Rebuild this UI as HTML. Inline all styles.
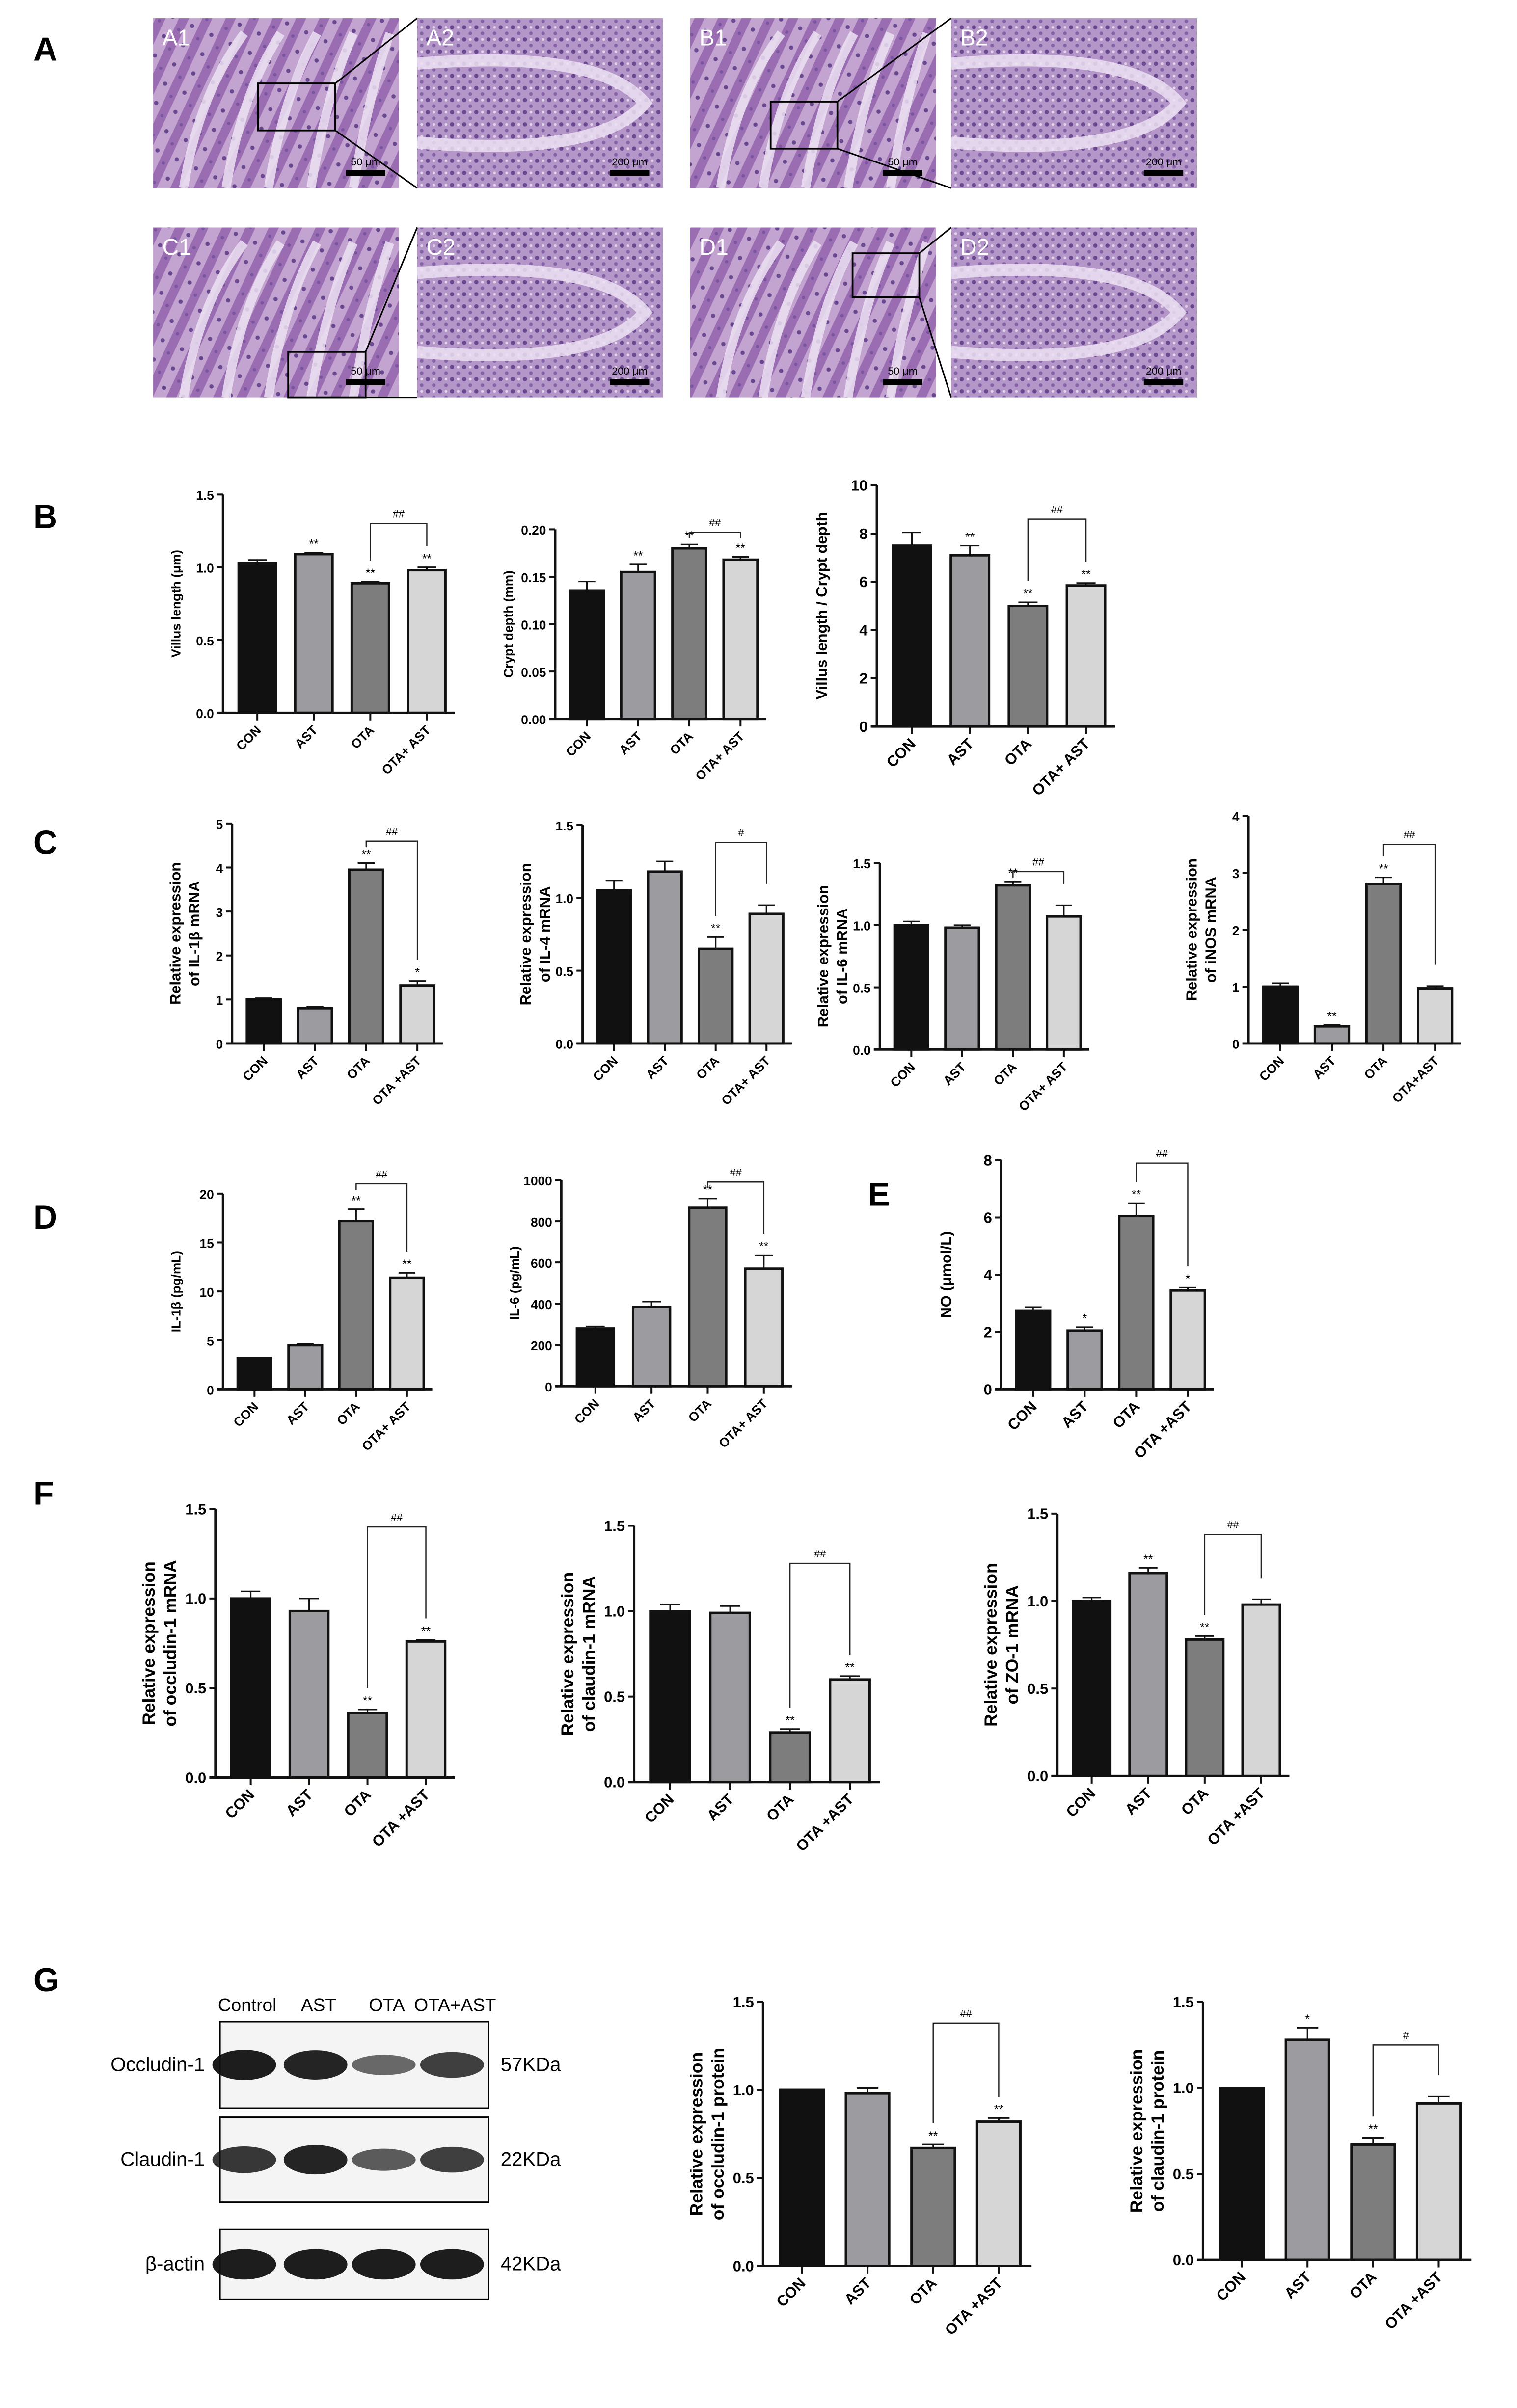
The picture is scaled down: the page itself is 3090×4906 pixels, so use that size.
<!DOCTYPE html>
<html><head><meta charset="utf-8"><style>
html,body{margin:0;padding:0;background:#fff}
svg{display:block}
text{font-family:"Liberation Sans",sans-serif}
</style></head><body>
<svg id="fig" width="3090" height="4906" viewBox="0 0 1000 1587.7" xmlns="http://www.w3.org/2000/svg">
<defs>
<pattern id="tissue" width="14" height="14" patternUnits="userSpaceOnUse" patternTransform="rotate(25)">
<rect width="14" height="14" fill="#c3a3d0"/>
<rect width="6" height="14" fill="#9a6cb2"/>
<circle cx="10" cy="4" r="1.4" fill="#6a4890"/>
<circle cx="3" cy="10" r="1.1" fill="#7a55a0"/>
</pattern>
<pattern id="tissue2" width="8" height="8" patternUnits="userSpaceOnUse">
<rect width="8" height="8" fill="#b596c8"/>
<circle cx="2" cy="2" r="1.4" fill="#6a4890"/>
<circle cx="6" cy="6" r="1.2" fill="#8462a6"/>
<circle cx="6" cy="2" r="0.9" fill="#e2d4ea"/>
</pattern>
</defs>
<g id="panelA"></g>
<g id="charts"></g>
<g id="blot"></g>
</svg>
<script>
const NS="http://www.w3.org/2000/svg";
const categories=["CON","AST","OTA","OTA+ AST"];
const colors=["#111","#9b9ba0","#7d7d7d","#d6d6d6"];
// data arrays
const b1Values=[1.03,1.09,0.89,0.98], b1Err=[0.02,0.01,0.01,0.02], b1Ticks=["0.0","0.5","1.0","1.5"];
const b2Values=[0.135,0.155,0.180,0.168], b2Err=[0.01,0.008,0.004,0.003], b2Ticks=["0.00","0.05","0.10","0.15","0.20"];
const b3Values=[7.5,7.1,5.0,5.85], b3Err=[0.55,0.4,0.15,0.1], b3Ticks=["0","2","4","6","8","10"];
const c1Values=[1.0,0.8,3.95,1.32], c1Err=[0.03,0.03,0.15,0.1], c1Ticks=["0","1","2","3","4","5"];
const c2Values=[1.05,1.18,0.65,0.89], c2Err=[0.07,0.07,0.08,0.06], c2Ticks=["0.0","0.5","1.0","1.5"];
const c3Values=[1.0,0.98,1.32,1.07], c3Err=[0.03,0.02,0.03,0.09], c3Ticks=["0.0","0.5","1.0","1.5"];
const c4Values=[1.0,0.3,2.8,0.97], c4Err=[0.06,0.03,0.12,0.04], c4Ticks=["0","1","2","3","4"];
const d1Values=[3.2,4.5,17.2,11.4], d1Err=[0,0.15,1.2,0.5], d1Ticks=["0","5","10","15","20"];
const d2Values=[280,385,865,570], d2Err=[10,25,45,65], d2Ticks=["0","200","400","600","800","1000"];
const eValues=[2.75,2.05,6.05,3.45], eErr=[0.12,0.12,0.45,0.1], eTicks=["0","2","4","6","8"];
const f1Values=[1.0,0.93,0.36,0.76], f1Err=[0.04,0.07,0.02,0.01], f1Ticks=["0.0","0.5","1.0","1.5"];
const f2Values=[1.0,0.99,0.29,0.60], f2Err=[0.04,0.04,0.02,0.02], f2Ticks=["0.0","0.5","1.0","1.5"];
const f3Values=[1.0,1.16,0.78,0.98], f3Err=[0.02,0.03,0.02,0.03], f3Ticks=["0.0","0.5","1.0","1.5"];
const g1Values=[1.0,0.98,0.67,0.82], g1Err=[0,0.03,0.02,0.02], g1Ticks=["0.0","0.5","1.0","1.5"];
const g2Values=[1.0,1.28,0.67,0.91], g2Err=[0,0.07,0.04,0.04], g2Ticks=["0.0","0.5","1.0","1.5"];

function el(tag,attrs,parent,txt){const e=document.createElementNS(NS,tag);for(const k in attrs)e.setAttribute(k,attrs[k]);if(txt!==undefined)e.textContent=txt;(parent||document.getElementById('charts')).appendChild(e);return e;}

function chart(id,ax,yTop,yBot,xEnd,ymax,vals,errs,ticks,stars,br,ylabel,labels,serif){
  const g=el('g',{});
  
  
  const y=v=>yBot-(v/ymax)*(yBot-yTop);
  const slot=(xEnd-ax-4)/4;
  const bw=slot*0.66;
  const fs=(yBot-yTop)>150?10:8.5;
  vals.forEach((v,i)=>{
    const cx=ax+4+slot*(i+0.5);
    const top=y(v);
    const b=el('rect',{x:cx-bw/2,y:top,width:bw,height:yBot-top,fill:colors[i],stroke:'#111','stroke-width':1.6},g);
    
    
    if(errs[i]>0){const ey=y(v+errs[i]);el('line',{x1:cx,y1:top,x2:cx,y2:ey,stroke:'#111','stroke-width':1},g);el('line',{x1:cx-bw*0.25,y1:ey,x2:cx+bw*0.25,y2:ey,stroke:'#111','stroke-width':1},g);}
    if(stars[i]){const st=el('text',{x:cx,y:y(v+errs[i])-3,'font-size':8,'text-anchor':'middle'},g,stars[i]);}
    el('line',{x1:cx,y1:yBot,x2:cx,y2:yBot+5,stroke:'#111','stroke-width':1.3},g);
    const lb=el('text',{x:cx+3,y:yBot+12,'font-size':fs,'font-weight':'bold','text-anchor':'end',transform:`rotate(-45 ${cx+3} ${yBot+12})`},g,labels[i]);
    
    
  });
  el('line',{x1:ax,y1:yTop,x2:ax,y2:yBot,stroke:'#111','stroke-width':1.6},g);
  el('line',{x1:ax-4,y1:yBot,x2:xEnd,y2:yBot,stroke:'#111','stroke-width':1.6},g);
  ticks.forEach((t,i)=>{const ty=yBot-(i/(ticks.length-1))*(yBot-yTop);el('line',{x1:ax-4,y1:ty,x2:ax,y2:ty,stroke:'#111','stroke-width':1.3},g);const tt=el('text',{x:ax-6,y:ty+3.5,'font-size':fs,'font-weight':'bold','text-anchor':'end'},g,t);});
  if(br){const [i,j,lab,h]=br;const x1=ax+4+slot*(i+0.5),x2=ax+4+slot*(j+0.5);const by=y(h);
    const l1=Math.max(by+4,y(vals[i]+errs[i])-14), l2=Math.max(by+4,y(vals[j]+errs[j])-14);
    el('path',{d:`M${x1} ${l1} V${by} H${x2} V${l2}`,fill:'none',stroke:'#222','stroke-width':0.8},g);
    el('text',{x:(x1+x2)/2,y:by-4,'font-size':7,'text-anchor':'middle'},g,lab);}
  const lines=ylabel.split('\n');const lx=ax-(fs>9?33:28);const ly=(yTop+yBot)/2;
  const yl=el('text',{x:lx,y:ly,'font-size':fs+(lines.length>1?1.5:0),'font-weight':'bold','text-anchor':'middle',transform:`rotate(-90 ${lx} ${ly})`,'font-family':serif?'Liberation Serif,serif':'Liberation Sans,sans-serif'},g);
  
  
  lines.forEach((l,k)=>{el('tspan',{x:lx,dy:k==0?(lines.length>1?-(fs*0.1):0):fs+4},yl,l);});
  if(lines.length>1){yl.setAttribute('transform',`rotate(-90 ${lx} ${ly}) translate(0 ${-(fs+2)/2})`);}
}
const L1=["CON","AST","OTA","OTA+ AST"], L2=["CON","AST","OTA","OTA +AST"], L3=["CON","AST","OTA","OTA+AST"];
chart('b1',147,326,470,300,1.5,b1Values,b1Err,b1Ticks,["","**","**","**"],[2,3,"##",1.30],"Villus length (μm)",L1,true);
chart('b2',366,349,474,505,0.20,b2Values,b2Err,b2Ticks,["","**","**","**"],[2,3,"##",0.197],"Crypt depth (mm)",L1,true);
chart('b3',578,320,479,735,10,b3Values,b3Err,b3Ticks,["","**","**","**"],[2,3,"##",8.6],"Villus length / Crypt depth",L1,true);
chart('c1',153,543,688,292,5,c1Values,c1Err,c1Ticks,["","","**","*"],[2,3,"##",4.6],"Relative expression\nof IL-1β mRNA",L2);
chart('c2',384,544,688,522,1.5,c2Values,c2Err,c2Ticks,["","","**",""],[2,3,"#",1.38],"Relative expression\nof IL-4 mRNA",L1);
chart('c3',580,569,692,718,1.5,c3Values,c3Err,c3Ticks,["","","**",""],[2,3,"##",1.43],"Relative expression\nof IL-6 mRNA",L1);
chart('c4',823,538,688,963,4,c4Values,c4Err,c4Ticks,["","**","**",""],[2,3,"##",3.5],"Relative expression\nof iNOS mRNA",L3);
chart('d1',147,787,916,285,20,d1Values,d1Err,d1Ticks,["","","**","**"],[2,3,"##",21],"IL-1β (pg/mL)",L1);
chart('d2',370,778,914,522,1000,d2Values,d2Err,d2Ticks,["","","**","**"],[2,3,"##",990],"IL-6 (pg/mL)",L1);
chart('e',660,765,916,800,8,eValues,eErr,eTicks,["","*","**","*"],[2,3,"##",7.9],"NO (μmol/L)",L2,true);
chart('f1',142,995,1172,300,1.5,f1Values,f1Err,f1Ticks,["","","**","**"],[2,3,"##",1.4],"Relative expression\nof occludin-1 mRNA",L2);
chart('f2',418,1006,1175,580,1.5,f2Values,f2Err,f2Ticks,["","","**","**"],[2,3,"##",1.28],"Relative expression\nof claudin-1 mRNA",L2);
chart('f3',697,998,1171,850,1.5,f3Values,f3Err,f3Ticks,["","**","**",""],[2,3,"##",1.38],"Relative expression\nof ZO-1 mRNA",L2);
chart('g1',503,1320,1494,680,1.5,g1Values,g1Err,g1Ticks,["","","**","**"],[2,3,"##",1.38],"Relative expression\nof occludin-1 protein",L2);
chart('g2',793,1320,1490,970,1.5,g2Values,g2Err,g2Ticks,["","*","**",""],[2,3,"#",1.25],"Relative expression\nof claudin-1 protein",L2);

const letters=[["A",22,40],["B",22,348],["C",22,563],["D",22,810],["E",572,795],["F",22,992],["G",22,1313]];
letters.forEach(([t,x,yy])=>{const e=el('text',{x:x,y:yy,'font-size':22,'font-weight':'bold'},null,t);});

const pa=document.getElementById('panelA');
const imgs=[["A1",101,12,"tissue"],["A2",275,12,"tissue2"],["B1",455,12,"tissue"],["B2",627,12,"tissue2"],["C1",101,150,"tissue"],["C2",275,150,"tissue2"],["D1",455,150,"tissue"],["D2",627,150,"tissue2"]];
imgs.forEach(([n,x,yy,p])=>{
  const r=el('rect',{x:x,y:yy,width:162,height:112,fill:`url(#${p})`},pa);
  
  
  if(p=="tissue"){for(let k=0;k<5;k++)el('path',{d:`M${x+20+k*28} ${yy+112} Q${x+30+k*28} ${yy+50} ${x+60+k*24} ${yy+10}`,stroke:'#ece2f2','stroke-width':6,fill:'none',opacity:0.85},pa);}
  else{el('path',{d:`M${x} ${yy+30} Q${x+120} ${yy+20} ${x+150} ${yy+56} Q${x+120} ${yy+92} ${x} ${yy+82}`,stroke:'#ece2f2','stroke-width':8,fill:'none',opacity:0.85},pa);}
  el('text',{x:x+6,y:yy+18,'font-size':15,fill:'#fff','font-family':'Liberation Serif,serif'},pa,n);
  el('rect',{x:x+127,y:yy+100,width:26,height:4,fill:'#000'},pa);
  el('text',{x:x+140,y:yy+97,'font-size':7,'text-anchor':'middle'},pa,n.endsWith('1')?'50 μm':'200 μm');
});
[[170,55,221,86,263,12,275,124],[508,67,552,98,617,12,627,124],[190,232,241,262,263,150,275,262],[562,167,606,196,617,150,627,262]].forEach(([x1,y1,x2,y2,a,b,c,d])=>{
  el('rect',{x:x1,y:y1,width:x2-x1,height:y2-y1,fill:'none',stroke:'#000','stroke-width':1.2},pa);
  el('line',{x1:x2,y1:y1,x2:c,y2:b,stroke:'#000','stroke-width':1},pa);
  el('line',{x1:x2,y1:y2,x2:c,y2:d,stroke:'#000','stroke-width':1},pa);
});

const bl=document.getElementById('blot');
const lanes=["Control","AST","OTA","OTA+AST"], laneX=[163,210,255,300];
lanes.forEach((l,i)=>el('text',{x:laneX[i],y:1326,'font-size':12,'text-anchor':'middle'},bl,l));
const rows=[["Occludin-1","57KDa",1333,1390,[1,0.95,0.45,0.75]],["Claudin-1","22KDa",1396,1452,[0.8,0.95,0.55,0.75]],["β-actin","42KDa",1470,1516,[1,1,1,1]]];
rows.forEach(([n,kd,t,b,ints])=>{
  const r=el('rect',{x:145,y:t,width:177,height:b-t,fill:'#f4f4f4',stroke:'#000','stroke-width':1},bl);
  
  
  ints.forEach((v,i)=>el('ellipse',{cx:laneX[i]-2,cy:(t+b)/2,rx:21,ry:4+6*v,fill:'#111',opacity:0.35+0.6*v},bl));
  el('text',{x:135,y:(t+b)/2+4,'font-size':13,'text-anchor':'end'},bl,n);
  el('text',{x:330,y:(t+b)/2+4,'font-size':13},bl,kd);
});
</script>
</body></html>
